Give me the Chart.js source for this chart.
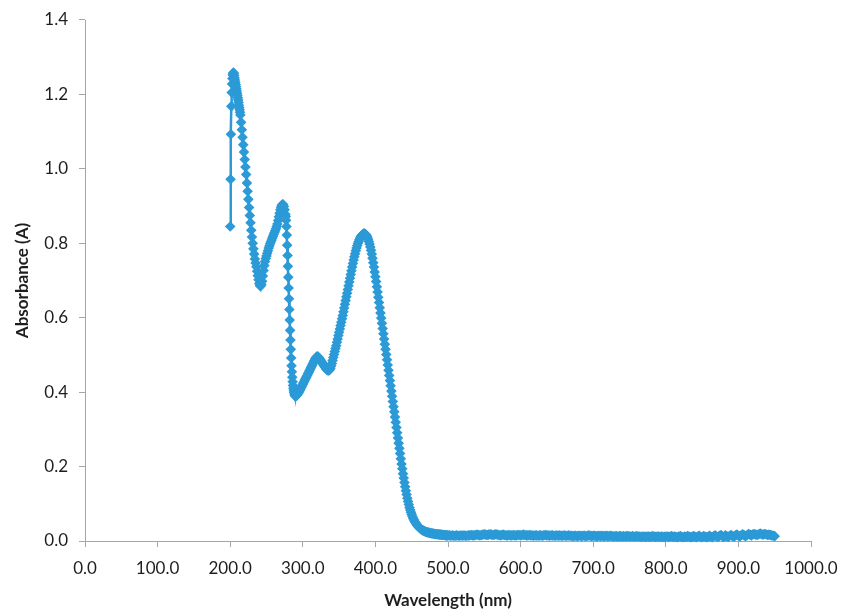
<!DOCTYPE html>
<html>
<head>
<meta charset="utf-8">
<script src="https://cdn.jsdelivr.net/npm/chart.js@4/dist/chart.umd.min.js"></script>
<style>
  html, body { margin: 0; padding: 0; background: #ffffff; }
  #wrap { width: 844px; height: 611px; }
</style>
</head>
<body>
<div id="wrap"><canvas id="c" width="844" height="611"></canvas></div>
<script>
// ---- Data (absorbance) ----
// Each block: sampling grid start (nm), step (nm), then the absorbance readings.
const seg1Start = 200, seg1Step = 0.5;
const seg1Abs = [0.845,0.972,1.093,1.168,1.205,1.228,1.243,1.252,1.257,1.259,
  1.256,1.251,1.245,1.239,1.233,1.227,1.221,1.215,1.209,1.203,
  1.197,1.191,1.185,1.178,1.171,1.165,1.159,1.152,1.145];

const seg2Start = 215, seg2Step = 1;
const seg2Abs = [1.125,1.105,1.085,1.065,1.045,1.025,1.005,0.985,0.962,0.940,
  0.918,0.896,0.875,0.855,0.835,0.817,0.800,0.785,0.771,0.758,
  0.747,0.737,0.725,0.713,0.702,0.692,0.686,0.685,0.689,0.698,
  0.712,0.727,0.740,0.751,0.759,0.766,0.773,0.780,0.787,0.793,
  0.799,0.804,0.809,0.814,0.819,0.824,0.829,0.834,0.839,0.845,
  0.852,0.861,0.871,0.881,0.890,0.897,0.902,0.905,0.904,0.899,
  0.890,0.878];

const seg3Start = 276.5, seg3Step = 0.5;
const seg3Abs = [0.872,0.862,0.845,0.822,0.795,0.767,0.738,0.709,0.680,0.651,
  0.622,0.594,0.566,0.540,0.515,0.492,0.471,0.455,0.440,0.428,
  0.418,0.410,0.404,0.399,0.395,0.392,0.390,0.389,0.389,0.390,
  0.391,0.393];

const seg4Start = 293, seg4Step = 1;
const seg4Abs = [0.395,0.398,0.401,0.405,0.409,0.413,0.417,0.421,0.425,0.429,
  0.433,0.437,0.441,0.445,0.449,0.453,0.457,0.461,0.465,0.469,
  0.473,0.477,0.481,0.485,0.489,0.492,0.495,0.496,0.495,0.493,
  0.490,0.487,0.484,0.481,0.478,0.475,0.472,0.469,0.466,0.463,
  0.461,0.459,0.458,0.458,0.460,0.464,0.470,0.477,0.485,0.493,
  0.501,0.509,0.517,0.525,0.534,0.543,0.552,0.561,0.570,0.579,
  0.588,0.597,0.606,0.616,0.626,0.636,0.646,0.656,0.666,0.676,
  0.686,0.696,0.706,0.716,0.726,0.736,0.746,0.755,0.764,0.772,
  0.780,0.787,0.794,0.800,0.805,0.810,0.814,0.818,0.821,0.823,
  0.825,0.826,0.826,0.825,0.823,0.820,0.816,0.811,0.805,0.798,
  0.790,0.781,0.771,0.760,0.748,0.736,0.723,0.710,0.697,0.683,
  0.669,0.655,0.641,0.627,0.613,0.599,0.585,0.571,0.557,0.543,
  0.529,0.515,0.501,0.487,0.473,0.459,0.445,0.431,0.417,0.403,
  0.389,0.375,0.361,0.347,0.333,0.319,0.305,0.291,0.277,0.263,
  0.249,0.235,0.221,0.207,0.194,0.181,0.169,0.157,0.146,0.135,
  0.125,0.115,0.106,0.098,0.090,0.083,0.077,0.071,0.066,0.061,
  0.057,0.053,0.050,0.047,0.044,0.041,0.039,0.037,0.035,0.033,
  0.032,0.030,0.029,0.028,0.027,0.026,0.025,0.024,0.024,0.023,
  0.023,0.022,0.022,0.021,0.021,0.020,0.020,0.020,0.019,0.019,
  0.019,0.018,0.018,0.018,0.018,0.017,0.017,0.017,0.017,0.016,
  0.016,0.016,0.016,0.016,0.015,0.015,0.015,0.015];

const seg5Start = 502, seg5Step = 2;
const seg5Abs = [
  0.015,0.014,0.015,0.014,0.014,0.015,0.014,0.014,0.015,0.014,0.015,0.014,0.014,0.015,0.015,
  0.016,0.015,0.015,0.016,0.017,0.016,0.015,0.016,0.017,0.018,0.017,0.016,0.017,0.018,0.017,
  0.016,0.017,0.018,0.017,0.016,0.015,0.016,0.017,0.016,0.015,0.015,0.016,0.015,0.015,0.016,
  0.015,0.015,0.016,0.016,0.015,0.016,0.017,0.016,0.015,0.015,0.016,0.015,0.015,0.014,0.015,
  0.015,0.014,0.015,0.015,0.014,0.015,0.016,0.015,0.015,0.014,0.015,0.015,0.014,0.014,0.015,
  0.014,0.015,0.014,0.014,0.015,0.014,0.014,0.015,0.014,0.014,0.013,0.014,0.014,0.013,0.014,
  0.014,0.013,0.014,0.014,0.013,0.014,0.015,0.014,0.013,0.014,0.014,0.013,0.013,0.014,0.013,
  0.014,0.013,0.013,0.014,0.013,0.013,0.014,0.013,0.012,0.013,0.013,0.012,0.013,0.013,0.012,
  0.013,0.012,0.013,0.013,0.012,0.012,0.013,0.012,0.012,0.013,0.012,0.012,0.011,0.012,0.012,
  0.011,0.012,0.012,0.011,0.012,0.013,0.012,0.011,0.012,0.012,0.011,0.012,0.011,0.011,0.012,
  0.012,0.011,0.012,0.013,0.011,0.012,0.011,0.010,0.012,0.013,0.011,0.010,0.012,0.011,0.013,
  0.012,0.010,0.011,0.013,0.012,0.010,0.012,0.014,0.011,0.010,0.013,0.012,0.010,0.011,0.014,
  0.012,0.010,0.013,0.015,0.012,0.011,0.014,0.016,0.012,0.011,0.015,0.013,0.011,0.014,0.016,
  0.013,0.012,0.015,0.017,0.014,0.012,0.016,0.018,0.015,0.013,0.016,0.019,0.017,0.015,0.018,
  0.019,0.017,0.016,0.018,0.020,0.018,0.017,0.019,0.018,0.016,0.017,0.016,0.015,0.014,0.013];

const xTickLabels = ['0.0','100.0','200.0','300.0','400.0','500.0','600.0','700.0','800.0','900.0','1000.0'];
const yTickLabels = ['0.0','0.2','0.4','0.6','0.8','1.0','1.2','1.4'];
const xAxisTitle = 'Wavelength (nm)';
const yAxisTitle = 'Absorbance (A)';

// ---- Build point list ----
function toPoints(start, step, values) {
  return values.map((v, i) => ({ x: +(start + i * step).toFixed(2), y: v }));
}
const points = [].concat(
  toPoints(seg1Start, seg1Step, seg1Abs),
  toPoints(seg2Start, seg2Step, seg2Abs),
  toPoints(seg3Start, seg3Step, seg3Abs),
  toPoints(seg4Start, seg4Step, seg4Abs),
  toPoints(seg5Start, seg5Step, seg5Abs)
);

const blue = '#2b9ad7';
const axisGray = '#a6a6a6';
const textColor = '#1e1e1e';

new Chart(document.getElementById('c'), {
  type: 'scatter',
  data: {
    datasets: [{
      data: points,
      showLine: true,
      borderColor: blue,
      backgroundColor: blue,
      borderWidth: 2.5,
      pointStyle: 'rectRot',
      pointRadius: 5.3,
      pointBorderWidth: 0,
      pointHoverRadius: 5.3,
      tension: 0,
      clip: false
    }]
  },
  options: {
    responsive: false,
    animation: false,
    events: [],
    layout: { autoPadding: false, padding: { left: 0, right: 33, top: 20, bottom: 0 } },
    plugins: { legend: { display: false }, tooltip: { enabled: false } },
    scales: {
      x: {
        type: 'linear',
        min: 0, max: 1000,
        afterFit: (s) => { s.height = 70; s.paddingLeft = 0; s.paddingRight = 0; },
        afterBuildTicks: (s) => { s.ticks = xTickLabels.map((_, i) => ({ value: i * 100 })); },
        ticks: {
          callback: (v, i) => xTickLabels[i],
          color: textColor,
          font: { family: 'Lato', size: 17 },
          padding: 11,
          maxRotation: 0,
          autoSkip: false
        },
        grid: { drawOnChartArea: false, drawTicks: true, tickLength: 6, color: axisGray, tickColor: axisGray },
        border: { display: true, color: axisGray, width: 1 },
        title: {
          display: true, text: xAxisTitle, color: textColor,
          font: { family: 'Lato', size: 17, weight: 'bold' },
          padding: { top: 2, bottom: 0 }
        }
      },
      y: {
        type: 'linear',
        min: 0, max: 1.4,
        afterFit: (s) => { s.width = 85; s.paddingTop = 0; s.paddingBottom = 0; },
        afterBuildTicks: (s) => { s.ticks = yTickLabels.map((_, i) => ({ value: i * 0.2 })); },
        ticks: {
          callback: (v, i) => yTickLabels[i],
          color: textColor,
          font: { family: 'Lato', size: 17 },
          padding: 11,
          autoSkip: false
        },
        grid: { drawOnChartArea: false, drawTicks: true, tickLength: 6, color: axisGray, tickColor: axisGray },
        border: { display: true, color: axisGray, width: 1 },
        title: {
          display: true, text: yAxisTitle, color: textColor,
          font: { family: 'Lato', size: 17, weight: 'bold' },
          padding: { top: 12, bottom: 0 }
        }
      }
    }
  }
});
</script>
</body>
</html>
